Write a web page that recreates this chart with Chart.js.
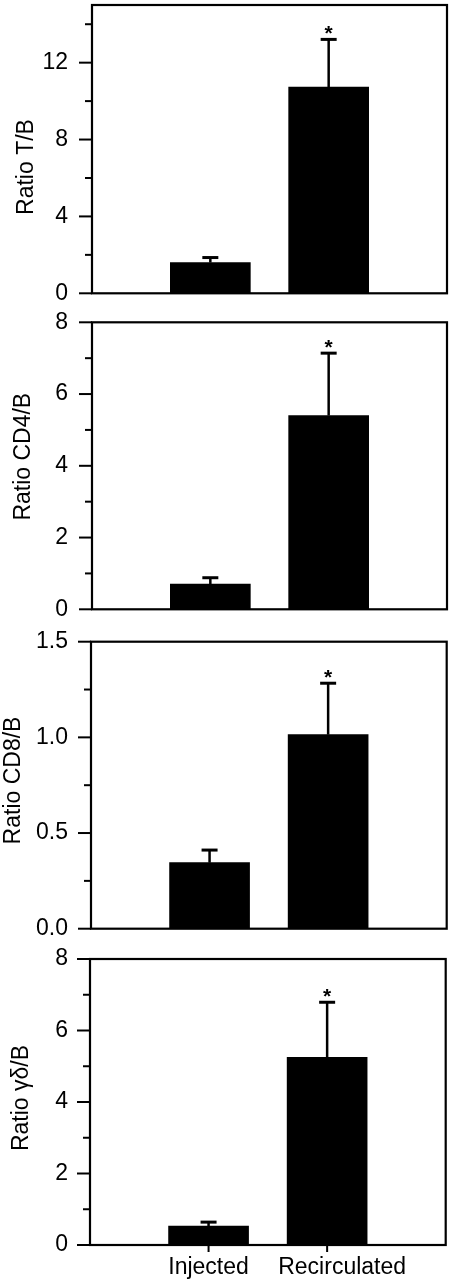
<!DOCTYPE html>
<html><head><meta charset="utf-8">
<script src="https://cdn.jsdelivr.net/npm/chart.js@4.4.1/dist/chart.umd.min.js"></script>
<style>
html,body{margin:0;padding:0;background:#fff;}
body{width:451px;height:1280px;position:relative;overflow:hidden;}
canvas{position:absolute;left:0;}
</style></head><body>
<canvas id="c1" width="451" height="310" style="top:0px;width:451px;height:310px"></canvas>
<canvas id="c2" width="451" height="315" style="top:310px;width:451px;height:315px"></canvas>
<canvas id="c3" width="451" height="315" style="top:625px;width:451px;height:315px"></canvas>
<canvas id="c4" width="451" height="340" style="top:940px;width:451px;height:340px"></canvas>
<script>
// ---- data ----
const categories = ['', 'Injected', 'Recirculated', ''];
const ratioTB  = [null, 1.60, 10.73, null];
const semTB    = [null, 0.26, 2.48, null];
const ratioCD4 = [null, 0.70, 5.40, null];
const semCD4   = [null, 0.18, 1.74, null];
const ratioCD8 = [null, 0.345, 1.014, null];
const semCD8   = [null, 0.066, 0.269, null];
const ratioGD  = [null, 0.53, 5.25, null];
const semGD    = [null, 0.11, 1.54, null];
const significant = [false, false, true, false];
const ticksTB  = [0, 2, 4, 6, 8, 10, 12, 14];
const majorTB  = [0, 4, 8, 12];
const ticksCD4 = [0, 1, 2, 3, 4, 5, 6, 7, 8];
const majorCD4 = [0, 2, 4, 6, 8];
const ticksCD8 = [0, 0.25, 0.5, 0.75, 1.0, 1.25, 1.5];
const majorCD8 = [0, 0.5, 1.0, 1.5];
const ticksGD  = [0, 1, 2, 3, 4, 5, 6, 7, 8];
const majorGD  = [0, 2, 4, 6, 8];

const FONT = '"Liberation Sans", Arial, Helvetica, sans-serif';

const panels = [
  {id:'c1', ctop:0,   h:310, area:{top:5,     bottom:293.3, left:92, right:447},   max:15,  ticks:ticksTB,  major:majorTB,  data:ratioTB,  sem:semTB,  title:'Ratio T/B',   tx:26.5, ty:167,  dec:0, showX:false},
  {id:'c2', ctop:310, h:315, area:{top:322.3, bottom:609.3, left:92, right:447},   max:8,   ticks:ticksCD4, major:majorCD4, data:ratioCD4, sem:semCD4, title:'Ratio CD4/B', tx:24,   ty:456.7,dec:0, showX:false},
  {id:'c3', ctop:625, h:315, area:{top:641.7, bottom:928.7, left:91, right:446.7}, max:1.5, ticks:ticksCD8, major:majorCD8, data:ratioCD8, sem:semCD8, title:'Ratio CD8/B', tx:14,   ty:780.5,dec:1, showX:false},
  {id:'c4', ctop:940, h:340, area:{top:959,   bottom:1245,  left:90, right:445.7}, max:8,   ticks:ticksGD,  major:majorGD,  data:ratioGD,  sem:semGD,  title:'Ratio γδ/B',  tx:21.7, ty:1098, dec:0, showX:true, labelShift:[0,0,15,0], labelBaseline:1274}
];

const decorPlugin = {
  id: 'decor',
  afterDatasetsDraw(chart, args, opts) {
    const p = opts.panel;
    const ctx = chart.ctx;
    const a = chart.chartArea;
    const xs = chart.scales.x, ys = chart.scales.y;
    ctx.save();
    ctx.strokeStyle = '#000';
    ctx.fillStyle = '#000';
    // error bars + significance
    p.data.forEach((v, i) => {
      if (v === null || p.sem[i] === null) return;
      const x = xs.getPixelForValue(i);
      const y0 = ys.getPixelForValue(v);
      const y1 = ys.getPixelForValue(v + p.sem[i]);
      ctx.lineWidth = 2.5;
      ctx.beginPath(); ctx.moveTo(x, y0); ctx.lineTo(x, y1); ctx.stroke();
      ctx.lineWidth = 3;
      ctx.beginPath(); ctx.moveTo(x - 8, y1); ctx.lineTo(x + 8, y1); ctx.stroke();
      if (significant[i]) {
        ctx.font = 'bold 21px ' + FONT;
        ctx.textAlign = 'center';
        ctx.textBaseline = 'alphabetic';
        ctx.fillText('*', x, y1 + 1);
      }
    });
    // frame
    ctx.lineWidth = 2.2;
    ctx.strokeRect(a.left, a.top, a.right - a.left, a.bottom - a.top);
    // y ticks
    p.ticks.forEach(t => {
      const y = ys.getPixelForValue(t);
      const len = p.major.includes(t) ? 13 : 7;
      ctx.lineWidth = 2;
      ctx.beginPath(); ctx.moveTo(a.left - len, y); ctx.lineTo(a.left, y); ctx.stroke();
    });
    // y title
    ctx.save();
    ctx.translate(p.tx, p.ty - p.ctop);
    ctx.rotate(-Math.PI / 2);
    ctx.font = '23px ' + FONT;
    ctx.textAlign = 'center';
    ctx.textBaseline = 'middle';
    ctx.fillText(p.title, 0, 0);
    ctx.restore();
    // x categories
    if (p.showX) {
      categories.forEach((c, i) => {
        if (!c) return;
        const x = xs.getPixelForValue(i);
        ctx.lineWidth = 2;
        ctx.beginPath(); ctx.moveTo(x, a.bottom); ctx.lineTo(x, a.bottom + 7); ctx.stroke();
        ctx.font = '23px ' + FONT;
        ctx.textAlign = 'center';
        ctx.textBaseline = 'alphabetic';
        ctx.fillText(c, x + p.labelShift[i], p.labelBaseline - p.ctop);
      });
    }
    ctx.restore();
  }
};

panels.forEach(p => {
  const el = document.getElementById(p.id);
  new Chart(el, {
    type: 'bar',
    data: {
      labels: categories,
      datasets: [{
        data: p.data,
        backgroundColor: '#000',
        borderWidth: 0,
        barThickness: 80
      }]
    },
    options: {
      responsive: false,
      animation: false,
      events: [],
      layout: {
        padding: {
          left: 0,
          right: 451 - p.area.right,
          top: p.area.top - p.ctop,
          bottom: p.ctop + p.h - p.area.bottom
        }
      },
      plugins: {
        legend: {display: false},
        tooltip: {enabled: false},
        decor: {panel: p}
      },
      scales: {
        x: {
          type: 'category',
          display: false,
          offset: false,
          grid: {offset: false, display: false}
        },
        y: {
          min: 0,
          max: p.max,
          border: {display: false},
          grid: {
            display: true,
            drawOnChartArea: false,
            drawTicks: true,
            tickLength: p.area.left - 68,
            tickColor: 'rgba(0,0,0,0)',
            color: 'rgba(0,0,0,0)'
          },
          afterFit: s => { s.width = p.area.left; },
          afterBuildTicks: s => { s.ticks = p.ticks.map(v => ({value: v})); },
          ticks: {
            autoSkip: false,
            padding: 0,
            color: '#000',
            font: {family: FONT, size: 23, lineHeight: 0.2},
            callback: v => p.major.includes(v) ? v.toFixed(p.dec) : ''
          }
        }
      }
    },
    plugins: [decorPlugin]
  });
});
</script>
</body></html>
